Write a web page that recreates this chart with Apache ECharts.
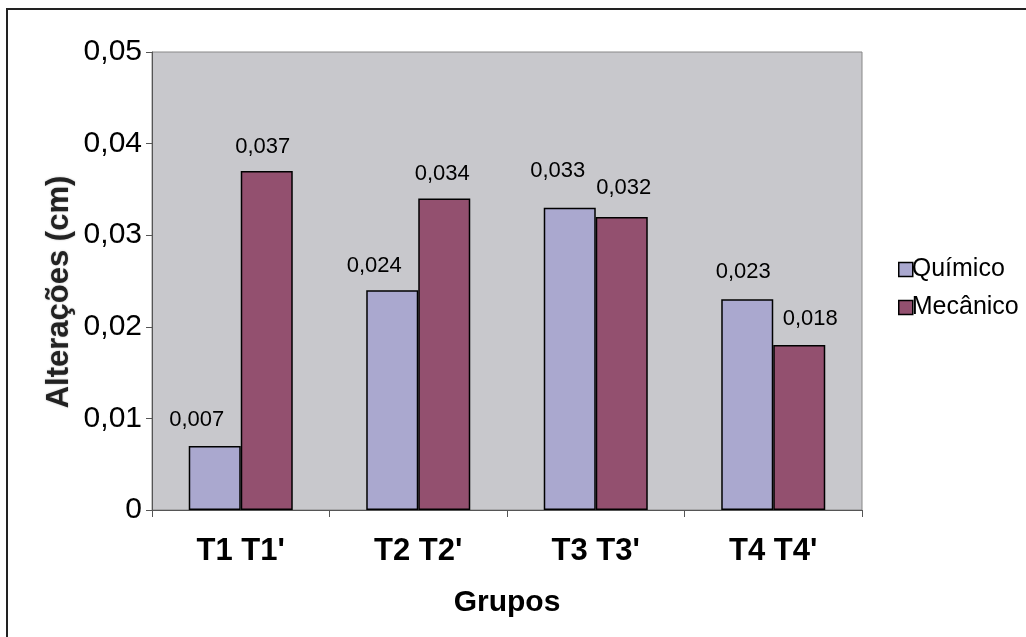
<!DOCTYPE html>
<html>
<head>
<meta charset="utf-8">
<script src="https://cdn.jsdelivr.net/npm/echarts@6/dist/echarts.min.js"></script>
<style>
  html, body { margin: 0; padding: 0; background: #fff; }
  #chart { width: 1026px; height: 637px; }
</style>
</head>
<body>
<div id="chart"></div>
<script>
// Grupos de tratamento e alterações medidas (cm)
const categories = ["T1 T1'", "T2 T2'", "T3 T3'", "T4 T4'"];
const quimico = [0.007, 0.024, 0.033, 0.023];
const mecanico = [0.037, 0.034, 0.032, 0.018];
const seriesNames = ['Químico', 'Mecânico'];

// Hand-placed nudges [dx, dy] for the value labels of each bar
const quimicoLabelNudge = [[-18, -2], [-18, 0], [-12, -13], [-4, -3]];
const mecanicoLabelNudge = [[-4, 0], [-2, -1], [2, -5], [11, -2]];

const FONT = '"Liberation Sans", Arial, sans-serif';
const fmtTick = v => (v === 0 ? '0' : v.toFixed(2).replace('.', ','));
const fmtLabel = p => p.value.toFixed(3).replace('.', ',');

const withNudge = (values, nudges) =>
  values.map((v, i) => ({ value: v, label: { offset: nudges[i] } }));

const chart = echarts.init(document.getElementById('chart'), null, { renderer: 'canvas' });

const barLabel = {
  show: true,
  position: 'top',
  distance: 13,
  formatter: fmtLabel,
  color: '#000',
  fontFamily: FONT,
  fontSize: 22
};

chart.setOption({
  animation: false,
  backgroundColor: '#fff',
  textStyle: { fontFamily: FONT },
  graphic: [
    {
      type: 'rect',
      shape: { x: 7, y: 9, width: 1040, height: 650 },
      style: { fill: 'none', stroke: '#222', lineWidth: 2 },
      silent: true
    },
    {
      // Vertical value-axis title
      type: 'text',
      x: 59,
      y: 292,
      rotation: Math.PI / 2,
      style: {
        text: 'Alterações (cm)',
        fontFamily: FONT,
        fontSize: 31,
        fontWeight: 'bold',
        fill: '#222',
        align: 'center',
        verticalAlign: 'middle',
        textShadowColor: 'rgba(0,0,0,0.3)',
        textShadowBlur: 2
      },
      silent: true
    }
  ],
  grid: {
    left: 152, top: 52, width: 710, height: 458,
    show: true,
    backgroundColor: '#C8C8CC',
    borderColor: '#888',
    borderWidth: 1
  },
  legend: {
    orient: 'vertical',
    left: 893,
    top: 252,
    itemWidth: 14,
    itemHeight: 14,
    itemGap: 13,
    icon: 'rect',
    data: seriesNames,
    textStyle: { fontFamily: FONT, fontSize: 25, color: '#000', padding: [0, 0, 0, -6] },
    itemStyle: { borderColor: '#000', borderWidth: 1.5 }
  },
  xAxis: {
    type: 'category',
    data: categories,
    name: 'Grupos',
    nameLocation: 'middle',
    nameGap: 78,
    nameTextStyle: { fontFamily: FONT, fontSize: 30, fontWeight: 'bold', color: '#000' },
    axisLine: { lineStyle: { color: '#555', width: 1 } },
    axisTick: { show: true, alignWithLabel: false, length: 7, lineStyle: { color: '#555' } },
    axisLabel: { margin: 26, fontFamily: FONT, fontSize: 31, fontWeight: 'bold', color: '#000' }
  },
  yAxis: {
    type: 'value',
    min: 0,
    max: 0.05,
    interval: 0.01,
    splitLine: { show: false },
    axisLine: { show: true, lineStyle: { color: '#555', width: 1 } },
    axisTick: { show: true, length: 6, lineStyle: { color: '#555' } },
    axisLabel: { margin: 10, formatter: fmtTick, fontFamily: FONT, fontSize: 30, color: '#000' }
  },
  series: [
    {
      name: seriesNames[0],
      type: 'bar',
      data: withNudge(quimico, quimicoLabelNudge),
      barGap: '0%',
      barCategoryGap: '41.4%',
      itemStyle: { color: '#AAA8CF', borderColor: '#000', borderWidth: 1.5 },
      label: barLabel
    },
    {
      name: seriesNames[1],
      type: 'bar',
      data: withNudge(mecanico, mecanicoLabelNudge),
      barGap: '0%',
      barCategoryGap: '41.4%',
      itemStyle: { color: '#93506F', borderColor: '#000', borderWidth: 1.5 },
      label: barLabel
    }
  ]
});
</script>
</body>
</html>
